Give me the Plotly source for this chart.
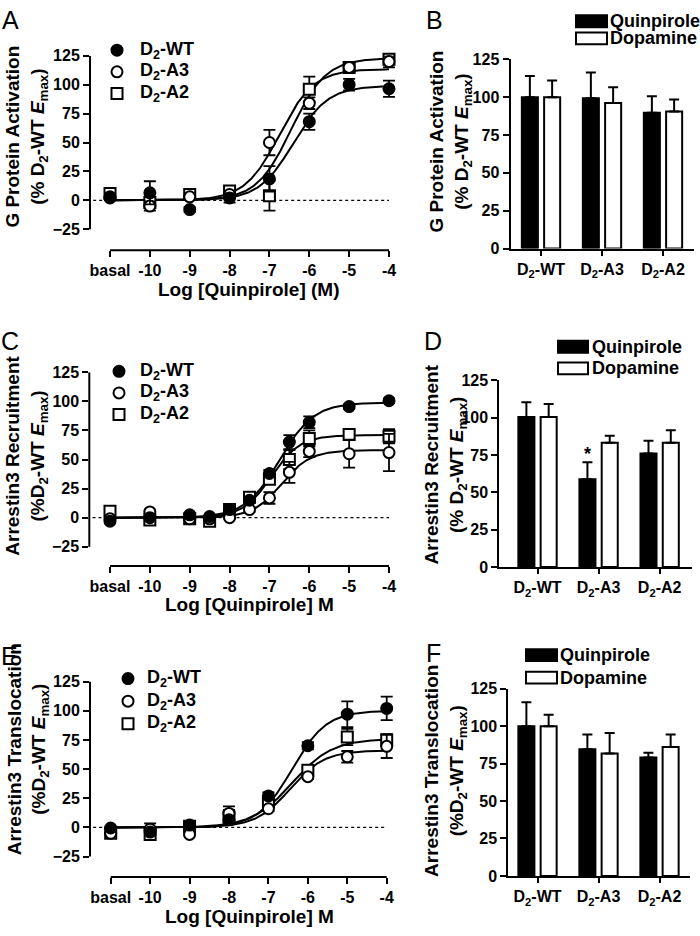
import numpy as np
import plotly.graph_objects as go

W, H = 700, 936
FONT = "Liberation Sans, Arial, sans-serif"


def fx(p):
    return p / W


def fy(p):
    return 1 - p / H


# ---------------- data ----------------
series_names = ["D<sub>2</sub>-WT", "D<sub>2</sub>-A3", "D<sub>2</sub>-A2"]
x_tick_vals = [-11, -10, -9, -8, -7, -6, -5, -4]
x_tick_text = ["basal", "-10", "-9", "-8", "-7", "-6", "-5", "-4"]
y_ticks_curve = [-25, 0, 25, 50, 75, 100, 125]
y_ticks_bar = [0, 25, 50, 75, 100, 125]

# Panel A : G protein activation (basal plotted at -11)
logq_A = [-11, -10, -9, -8, -7, -6, -5, -4]
gprot_WT = [2, 6.5, -8, 2, 18.5, 68, 100, 96.5]
gprot_WT_err = [2, 10, 2, 4, 11, 7, 5, 7]
gprot_A3 = [3, -5, 3, 5, 50, 84, 115, 120]
gprot_A3_err = [2, 4, 2, 2, 11, 5, 3, 5]
gprot_A2 = [6, -2, 5, 8, 4, 96, 115, 122]
gprot_A2_err = [2, 3, 2, 3, 13, 11, 4, 4]
# fitted curves: [top, logEC50, hill]
gprot_fit_WT = [99, -6.4, 1.0]
gprot_fit_A3 = [113.5, -6.75, 1.0]
gprot_fit_A2 = [123, -6.45, 1.0]

# Panel C : arrestin3 recruitment
logq_C = [-11, -10, -9, -8.5, -8, -7.5, -7, -6.5, -6, -5, -4]
recr_WT = [-3, 0, 2.5, 1, 7, 15, 38, 65, 82, 95.5, 100.5]
recr_WT_err = [1, 1, 1, 1, 1, 2, 3, 6, 5, 2, 2]
recr_A3 = [-1, 5, -1, -1, 0, 7, 17, 39, 57, 55, 56]
recr_A3_err = [1, 1, 1, 1, 1, 2, 5, 9, 5, 12, 16]
recr_A2 = [5.5, -2, -1, -3, 7, 17.5, 33, 50, 68, 71.5, 70]
recr_A2_err = [1, 1, 1, 1, 1, 2, 4, 8, 7, 3, 6]
recr_fit_WT = [99, -6.75, 1.0]
recr_fit_A3 = [58, -6.7, 1.2]
recr_fit_A2 = [71, -6.95, 1.2]

# Panel E : arrestin3 translocation
logq_E = [-11, -10, -9, -8, -7, -6, -5, -4]
trans_WT = [-0.5, -4, 2, 6.5, 27, 70, 97, 102]
trans_WT_err = [1, 2, 1, 2, 3, 3, 11, 10]
trans_A3 = [-5, -1.5, -6, 12, 16, 43.5, 60.5, 69.5]
trans_A3_err = [1, 5, 1, 6, 2, 2, 5, 10]
trans_A2 = [-5, -6, 1, 9, 22, 49, 77.5, 75]
trans_A2_err = [1, 1, 1, 6, 2, 2, 7, 5]
trans_fit_WT = [100, -6.4, 1.0]
trans_fit_A3 = [66, -6.45, 1.0]
trans_fit_A2 = [76, -6.4, 0.85]

# Bar panels
bar_cats = ["D<sub>2</sub>-WT", "D<sub>2</sub>-A3", "D<sub>2</sub>-A2"]
B_quin = [100, 99.3, 89.7]
B_quin_err = [14, 17, 11]
B_dopa = [100, 96.2, 90.6]
B_dopa_err = [11, 10.4, 7.8]
D_quin = [100.4, 58.8, 76.1]
D_quin_err = [9.9, 11.4, 8.5]
D_dopa = [100.4, 83.3, 83.3]
D_dopa_err = [8.8, 4.6, 8.3]
F_quin = [100, 84.6, 79.1]
F_quin_err = [16, 9.8, 3.1]
F_dopa = [100, 81.7, 86.1]
F_dopa_err = [7.6, 13.8, 8.3]

# ---------------- figure ----------------
fig = go.Figure()
shapes = []
annotations = []

marker_styles = [
    dict(symbol="circle", color="black", size=11, line=dict(color="black", width=2)),
    dict(symbol="circle", color="white", size=11, line=dict(color="black", width=2)),
    dict(symbol="square", color="white", size=11, line=dict(color="black", width=2)),
]


def four_pl(x, p):
    top, ec, hill = p
    return top / (1 + 10 ** ((ec - x) * hill))


def ann(text, x, y, size=18, bold=True, xanchor="center", yanchor="middle", angle=0):
    annotations.append(dict(
        text=text, x=fx(x), y=fy(y), xref="paper", yref="paper",
        xanchor=xanchor, yanchor=yanchor, showarrow=False, textangle=angle,
        font=dict(family=FONT, size=size, color="black", weight="bold" if bold else "normal"),
    ))


TICKFONT = dict(family=FONT, size=16, color="black", weight="bold")


def curve_panel(k, xdom, ydom, xrange, yrange, xs, ys, errs, fits,
                xtitle, ytitle, title_pos, xtitle_pos, leg_x, leg_rows, text_x):
    xa = "x" if k == 1 else f"x{k}"
    ya = "y" if k == 1 else f"y{k}"
    fig.update_layout(**{
        ("xaxis" if k == 1 else f"xaxis{k}"): dict(
            domain=[fx(xdom[0]), fx(xdom[1])], range=xrange, anchor=ya,
            tickvals=x_tick_vals, ticktext=x_tick_text, ticks="outside", ticklen=6,
            tickwidth=2, tickcolor="black", showline=False, showgrid=False, zeroline=False,
            tickfont=TICKFONT,
        ),
        ("yaxis" if k == 1 else f"yaxis{k}"): dict(
            domain=[fy(ydom[1]), fy(ydom[0])], range=yrange, anchor=xa,
            tickvals=y_ticks_curve, ticks="outside", ticklen=6, tickwidth=2,
            tickcolor="black", showline=False, showgrid=False, zeroline=False,
            tickfont=TICKFONT,
        ),
    })
    # axis lines (GraphPad style, detached)
    shapes.append(dict(type="line", xref=f"{xa} domain", yref=ya, x0=0, x1=0, y0=-25, y1=125,
                       line=dict(color="black", width=2)))
    shapes.append(dict(type="line", xref=xa, yref=f"{ya} domain", x0=-11, x1=-4, y0=0, y1=0,
                       line=dict(color="black", width=2)))
    # dotted zero line
    shapes.append(dict(type="line", xref=xa, yref=ya, x0=xrange[0] + 0.08, x1=-4, y0=0, y1=0,
                       line=dict(color="black", width=1.3, dash="dot"), layer="below"))
    xc = np.linspace(-11, -4, 300)
    for p in fits:
        fig.add_trace(go.Scatter(x=xc, y=four_pl(xc, p), mode="lines", xaxis=xa, yaxis=ya,
                                 line=dict(color="black", width=2), showlegend=False,
                                 hoverinfo="skip"))
    for i in [2, 1, 0]:
        fig.add_trace(go.Scatter(
            x=xs, y=ys[i], mode="markers", xaxis=xa, yaxis=ya, name=series_names[i],
            marker=marker_styles[i], showlegend=False, cliponaxis=False,
            error_y=dict(type="data", array=errs[i], visible=True, color="black",
                         thickness=1.8, width=6),
        ))
    # legend (manual)
    for i, yy in enumerate(leg_rows):
        st = marker_styles[i]
        shapes.append(dict(
            type="circle" if st["symbol"] == "circle" else "rect",
            xref="paper", yref="paper", xsizemode="pixel", ysizemode="pixel",
            xanchor=fx(leg_x), yanchor=fy(yy), x0=-5.5, x1=5.5, y0=-5.5, y1=5.5,
            fillcolor=st["color"], line=dict(color="black", width=2)))
        ann(series_names[i], text_x, yy, size=18, xanchor="left")
    ann(xtitle, xtitle_pos[0], xtitle_pos[1], size=19)
    ann(ytitle, title_pos[0], title_pos[1], size=19, angle=-90)


def bar_panel(k, xdom, ydom, xrange, quin, quin_err, dopa, dopa_err,
              ytitle, title_pos, leg_rect_x, leg_rows, leg_text_x):
    xa = f"x{k}"
    ya = f"y{k}"
    fig.update_layout(**{
        f"xaxis{k}": dict(
            domain=[fx(xdom[0]), fx(xdom[1])], range=xrange, anchor=ya, type="category",
            ticks="outside", ticklen=5, tickwidth=2, tickcolor="black", showline=True,
            linewidth=2, linecolor="black", showgrid=False, zeroline=False,
            tickfont=TICKFONT,
        ),
        f"yaxis{k}": dict(
            domain=[fy(ydom[1]), fy(ydom[0])], range=[0, 125], anchor=xa,
            tickvals=y_ticks_bar, ticks="outside", ticklen=6, tickwidth=2,
            tickcolor="black", showline=True, linewidth=2, linecolor="black",
            showgrid=False, zeroline=False, tickfont=TICKFONT,
        ),
    })
    fig.add_trace(go.Bar(
        x=bar_cats, y=quin, name="Quinpirole", xaxis=xa, yaxis=ya, showlegend=False,
        marker=dict(color="black", line=dict(color="black", width=2)),
        error_y=dict(type="data", symmetric=False, array=quin_err,
                     arrayminus=[0] * len(quin), color="black", thickness=2, width=5),
    ))
    fig.add_trace(go.Bar(
        x=bar_cats, y=dopa, name="Dopamine", xaxis=xa, yaxis=ya, showlegend=False,
        marker=dict(color="white", line=dict(color="black", width=2)),
        error_y=dict(type="data", symmetric=False, array=dopa_err,
                     arrayminus=[0] * len(dopa), color="black", thickness=2, width=5),
    ))
    for name, fill, yy in zip(["Quinpirole", "Dopamine"], ["black", "white"], leg_rows):
        shapes.append(dict(type="rect", xref="paper", yref="paper",
                           x0=fx(leg_rect_x[0]), x1=fx(leg_rect_x[1]),
                           y0=fy(yy + 6), y1=fy(yy - 6),
                           fillcolor=fill, line=dict(color="black", width=2)))
        ann(name, leg_text_x, yy, size=18, xanchor="left")
    ann(ytitle, title_pos[0], title_pos[1], size=19, angle=-90)


emax = "D<sub>2</sub>-WT <i>E</i><sub>max</sub>)"

curve_panel(1, (90, 400), (48.7, 246.7), [-11.502, -3.724], [-43.18, 125], logq_A,
            [gprot_WT, gprot_A3, gprot_A2], [gprot_WT_err, gprot_A3_err, gprot_A2_err],
            [gprot_fit_WT, gprot_fit_A3, gprot_fit_A2],
            "Log [Quinpirole] (M)", "G Protein Activation<br>(% " + emax, (27, 131), (249, 287),
            117, [43, 65, 87], 138)
curve_panel(3, (89.3, 400), (371, 568.3), [-11.519, -3.724], [-41.5, 125], logq_C,
            [recr_WT, recr_A3, recr_A2], [recr_WT_err, recr_A3_err, recr_A2_err],
            [recr_fit_WT, recr_fit_A3, recr_fit_A2],
            "Log [Quinpirole] M", "Arrestin3 Recruitment<br>(%" + emax, (27, 456), (249, 608),
            119, [370, 392, 414], 138)
curve_panel(5, (90, 397), (686, 885), [-11.525, -3.739], [-42.41, 125], logq_E,
            [trans_WT, trans_A3, trans_A2], [trans_WT_err, trans_A3_err, trans_A2_err],
            [trans_fit_WT, trans_fit_A3, trans_fit_A2],
            "Log [Quinpirole] M", "Arrestin3 Translocation<br>(%" + emax, (28, 755), (249, 925),
            128, [683, 706, 729], 145)

bar_panel(2, (510.5, 693.5), (52.3, 245), [-0.5, 2.5], B_quin, B_quin_err, B_dopa, B_dopa_err,
          "G Protein Activation<br>(% " + emax, (451, 136), (576, 607), [13.5, 31], 608)
bar_panel(4, (499.3, 692), (379.3, 569.3), [-0.626, 2.53], D_quin, D_quin_err, D_dopa, D_dopa_err,
          "Arrestin3 Recruitment<br>(% " + emax, (446, 465), (558, 588), [345, 367], 590)
bar_panel(6, (508.3, 690), (693.3, 884), [-0.479, 2.5], F_quin, F_quin_err, F_dopa, F_dopa_err,
          "Arrestin3 Translocation<br>(%" + emax, (446, 777), (526, 557), [659, 682], 558)

# significance star on D2-A3 quinpirole (panel D)
annotations.append(dict(text="*", x="D<sub>2</sub>-A3", y=76, xref="x4", yref="y4",
                        xshift=-11, showarrow=False, yanchor="middle",
                        font=dict(family=FONT, size=18, color="black", weight="bold")))

# panel letters
for letter, (lx, ly) in zip("ABCDEF", [(10, 12), (434, 12), (10, 339), (433, 339),
                                       (9, 660), (433, 657)]):
    ann(letter, lx, ly, size=25, bold=False)

fig.update_layout(
    width=W, height=H, margin=dict(l=0, r=0, t=0, b=0),
    paper_bgcolor="white", plot_bgcolor="white",
    barmode="group", bargap=0.27, bargroupgap=0.28,
    shapes=shapes, annotations=annotations, showlegend=False,
    font=dict(family=FONT, color="black"),
)

fig.write_html(
    "out.html",
    config={"displayModeBar": False},
    post_script="document.body.style.margin='0px';document.body.style.overflow='hidden';",
)
